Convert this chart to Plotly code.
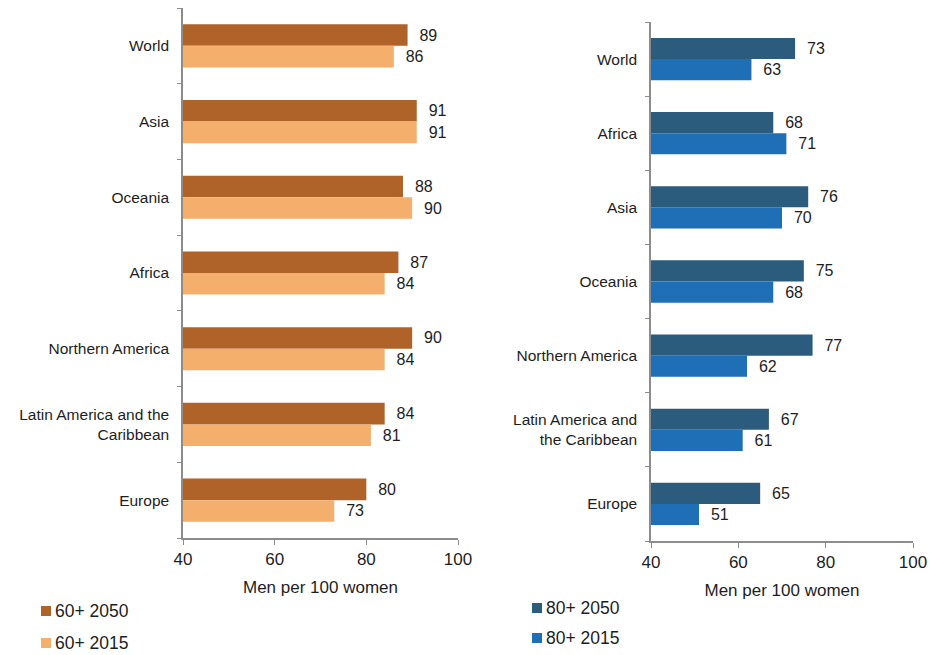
import plotly.graph_objects as go

# ---- data ----
regions_60 = ["World", "Asia", "Oceania", "Africa", "Northern America",
              "Latin America and the Caribbean", "Europe"]
labels_60 = ["World", "Asia", "Oceania", "Africa", "Northern America",
             "Latin America and the<br>Caribbean", "Europe"]
men_60_2050 = [89, 91, 88, 87, 90, 84, 80]
men_60_2015 = [86, 91, 90, 84, 84, 81, 73]

regions_80 = ["World", "Africa", "Asia", "Oceania", "Northern America",
              "Latin America and the Caribbean", "Europe"]
labels_80 = ["World", "Africa", "Asia", "Oceania", "Northern America",
             "Latin America and<br>the Caribbean", "Europe"]
men_80_2050 = [73, 68, 76, 75, 77, 67, 65]
men_80_2015 = [63, 71, 70, 68, 62, 61, 51]

x_ticks = [40, 60, 80, 100]

FONT = "Liberation Sans, Arial, sans-serif"
TXT = "#1e1e1e"
AX = "#8c8c8c"

c60_2050 = "#B06328"
c60_2015 = "#F3AF6B"
c80_2050 = "#2B5B7D"
c80_2015 = "#1F6FB6"

W, H = 930, 655


def px_x(p):
    return p / W


def px_y(p):
    return 1 - p / H


fig = go.Figure()


def add_bar(x, y, name, color, xa, ya):
    fig.add_trace(go.Bar(
        x=x, y=y, orientation="h", name=name,
        marker=dict(color=color, line=dict(width=0)),
        text=x, texttemplate="  %{x}", textposition="outside",
        textfont=dict(family=FONT, size=16, color=TXT),
        cliponaxis=False, xaxis=xa, yaxis=ya, showlegend=False,
        hoverinfo="x+y+name",
    ))


add_bar(men_60_2050, regions_60, "60+ 2050", c60_2050, "x", "y")
add_bar(men_60_2015, regions_60, "60+ 2015", c60_2015, "x", "y")
add_bar(men_80_2050, regions_80, "80+ 2050", c80_2050, "x2", "y2")
add_bar(men_80_2015, regions_80, "80+ 2015", c80_2015, "x2", "y2")

xcommon = dict(
    range=[40, 100], tickvals=x_ticks, ticks="outside", ticklen=5,
    tickcolor=AX, showline=True, linecolor=AX, linewidth=1.5,
    showgrid=False, zeroline=False, fixedrange=True, automargin=False,
    ticklabelstandoff=0,
    tickfont=dict(family=FONT, size=17, color=TXT),
    title=dict(text="Men per 100 women", standoff=13,
               font=dict(family=FONT, size=17, color=TXT)),
)
ycommon = dict(
    type="category", autorange="reversed", ticks="outside", ticklen=4,
    tickson="boundaries", tickcolor=AX, showline=True, linecolor=AX,
    linewidth=1.5, showgrid=False, zeroline=False, fixedrange=True,
    automargin=False, ticklabelstandoff=9,
    tickfont=dict(family=FONT, size=15.5, color=TXT),
)

fig.update_layout(
    width=W, height=H,
    margin=dict(l=0, r=0, t=0, b=0),
    paper_bgcolor="white", plot_bgcolor="white",
    barmode="group", bargap=0.43, bargroupgap=0,
    font=dict(family=FONT, color=TXT),
    xaxis=dict(domain=[px_x(183), px_x(458)], anchor="y", **xcommon),
    yaxis=dict(domain=[px_y(538), px_y(8)], anchor="x",
               tickvals=regions_60, ticktext=labels_60, **ycommon),
    xaxis2=dict(domain=[px_x(651), px_x(913)], anchor="y2", **xcommon),
    yaxis2=dict(domain=[px_y(541), px_y(22)], anchor="x2",
                tickvals=regions_80, ticktext=labels_80, **ycommon),
    showlegend=False,
)

# ---- legends (swatch + label) ----
legend_items = [
    ("60+ 2050", c60_2050, 41, 611),
    ("60+ 2015", c60_2015, 41, 643),
    ("80+ 2050", c80_2050, 532, 608),
    ("80+ 2015", c80_2015, 532, 638),
]
for name, color, lx, ly in legend_items:
    fig.add_shape(type="rect", xref="paper", yref="paper",
                  x0=px_x(lx), x1=px_x(lx + 10),
                  y0=px_y(ly + 5), y1=px_y(ly - 5),
                  fillcolor=color, line=dict(width=0))
    fig.add_annotation(text=name, xref="paper", yref="paper",
                       x=px_x(lx + 12), y=px_y(ly), xanchor="left",
                       yanchor="middle", showarrow=False,
                       font=dict(family=FONT, size=17.5, color=TXT))

fig.write_html(
    "out.html",
    config={"displayModeBar": False},
    post_script="document.body.style.margin='0px';"
                "document.body.style.overflow='hidden';",
)
